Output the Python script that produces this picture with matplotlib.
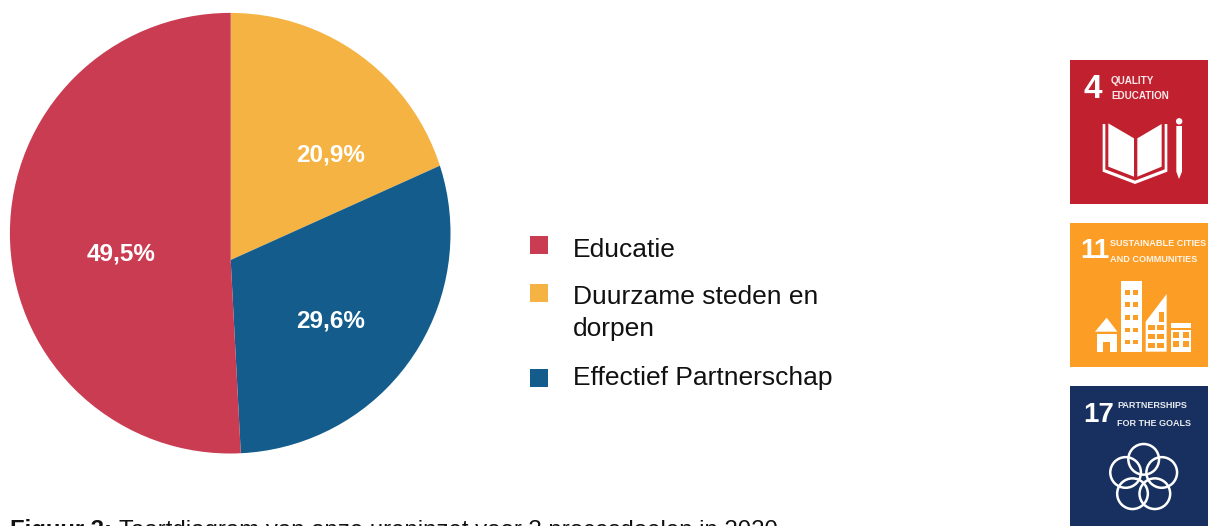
import numpy as np
import matplotlib
matplotlib.use("Agg")
import matplotlib.pyplot as plt
from matplotlib.patches import Rectangle, Polygon, Circle

plt.rcParams['font.family'] = ['Liberation Sans', 'DejaVu Sans']

categories = ["Educatie", "Duurzame steden en\ndorpen", "Effectief Partnerschap"]
value_labels = ["49,5%", "20,9%", "29,6%"]
# Slice shares as drawn in the picture (the wedge tips meet below the circle centre)
drawn_shares = [50.83, 18.26, 30.91]
colors = ["#C93C51", "#F4B342", "#135C8C"]
draw_order = [1, 2, 0]
caption_bold = "Figuur 3:"
caption_rest = "Taartdiagram van onze ureninzet voor 3 procesdoelen in 2020"

W, H = 1208, 526
fig = plt.figure(figsize=(W / 100, H / 100), dpi=100, facecolor="white")

# Pie: wedges from the off-centre tip, clipped by the visible circle
axp = fig.add_axes([0, 0, 1, 1], facecolor="none")
wedges, _ = axp.pie([drawn_shares[i] for i in draw_order], colors=[colors[i] for i in draw_order],
                    startangle=90, counterclock=False, radius=420, center=(230.7, H - 260))
axp.set_aspect("auto")
axp.set_xlim(0, W)
axp.set_ylim(0, H)
axp.axis("off")
clip = Circle((230.2, H - 233.2), 220.3, transform=axp.transData)
for w in wedges:
    w.set_clip_on(True)
    w.set_clip_path(clip)

# Pixel overlay
ax = fig.add_axes([0, 0, 1, 1], facecolor="none")
ax.set_xlim(0, W)
ax.set_ylim(H, 0)
ax.axis("off")

label_pos = {0: (120.8, 254), 1: (330.5, 155), 2: (330.5, 321)}
for i, lab in enumerate(value_labels):
    ax.text(*label_pos[i], lab, color="white", fontsize=17.5, fontweight="bold", ha="center", va="center")

leg_square_top = [236, 284, 369]
leg_baseline = [256.7, 304, 385]
for sq, base, c, name in zip(leg_square_top, leg_baseline, colors, categories):
    ax.add_patch(Rectangle((530, sq), 18, 18, fc=c, ec="none"))
    for k, line in enumerate(name.split("\n")):
        ax.text(573, base + 32 * k, line, fontsize=19, color="#111111", va="baseline")

# Caption (cut by the bottom edge, as in the reference)
CAP_BASE = 537.5
t = ax.text(10, CAP_BASE, caption_bold, fontsize=17.2, fontweight="bold", color="#111111", va="baseline")
fig.canvas.draw()
bb = t.get_window_extent()
ax.text(bb.x1 + 7, CAP_BASE, caption_rest, fontsize=17.3, color="#111111", va="baseline")

# SDG icons
ICON_X = 1070
ICON_R = 1208
ic1, ic2, ic3 = "#C1202F", "#FC9D26", "#17305F"
ax.add_patch(Rectangle((ICON_X, 60), ICON_R - ICON_X, 144, fc=ic1, ec="none"))
ax.add_patch(Rectangle((ICON_X, 223), ICON_R - ICON_X, 144, fc=ic2, ec="none"))
ax.add_patch(Rectangle((ICON_X, 386), ICON_R - ICON_X, 140, fc=ic3, ec="none"))

def conv(pts, oy):
    return [(1060 + x / 3, oy + y / 3) for x, y in pts]

def poly(pts, oy, fc="white"):
    ax.add_patch(Polygon(conv(pts, oy), closed=True, fc=fc, ec="none"))

def rect(x0, y0, x1, y1, oy, fc="white"):
    poly([(x0, y0), (x1, y0), (x1, y1), (x0, y1)], oy, fc)

def head(num, l1, l2, x_num, y_num, x_t, y1, y2, size_n, size_t):
    ax.text(x_num, y_num, num, color="white", fontsize=size_n, fontweight="bold", ha="left", va="center")
    ax.text(x_t, y1, l1, color="white", fontsize=size_t, fontweight="bold", ha="left", va="center", alpha=.9)
    ax.text(x_t, y2, l2, color="white", fontsize=size_t, fontweight="bold", ha="left", va="center", alpha=.9)

# 4 Quality education
head("4", "QUALITY", "EDUCATION", 1084, 90, 1111, 81, 96, 24, 7.1)
oy = 50
poly([(128, 222), (136, 222), (136, 358), (225, 392), (314, 358), (314, 222), (322, 222), (322, 365), (225, 402), (128, 365)], oy)
poly([(145, 220), (222, 265), (222, 380), (145, 350)], oy)
poly([(232, 265), (305, 222), (305, 350), (232, 380)], oy)
poly([(349, 228), (366, 228), (366, 365), (357, 387), (349, 365)], oy)
ax.add_patch(Circle((1060 + 357.5 / 3, 50 + 214 / 3), 3.2, fc="white", ec="none"))

# 11 Sustainable cities
head("11", "SUSTAINABLE CITIES", "AND COMMUNITIES", 1080, 251, 1110, 243, 259, 20, 6.6)
oy = 215
poly([(105, 350), (140, 308), (172, 350)], oy)
rect(112, 356, 170, 410, oy)
rect(130, 380, 150, 410, oy, ic2)
rect(182, 197, 246, 410, oy)
for wx in (194, 220):
    for wy in (225, 262, 300, 338, 374):
        rect(wx, wy, wx + 15, wy + 14, oy, ic2)
poly([(257, 410), (257, 320), (320, 237), (320, 410)], oy)
for wx in (265, 292):
    for wy in (330, 356, 384):
        rect(wx, wy, wx + 20, wy + 16, oy, ic2)
rect(297, 290, 312, 320, oy, ic2)
rect(332, 325, 394, 410, oy)
rect(332, 338, 394, 344, oy, ic2)
for wx in (340, 368):
    for wy in (352, 378):
        rect(wx, wy, wx + 18, wy + 17, oy, ic2)

# 17 Partnerships
head("17", "PARTNERSHIPS", "FOR THE GOALS", 1083, 415, 1117, 406, 423, 20, 6.5)
for a in np.deg2rad(90 + 72 * np.arange(5)):
    ax.add_patch(Circle((1060 + (251 + 57 * np.cos(a)) / 3, 380 + (295 - 57 * np.sin(a)) / 3), 46 / 3,
                        fc="none", ec="white", lw=1.8))

fig.savefig("out.png", dpi=100)
